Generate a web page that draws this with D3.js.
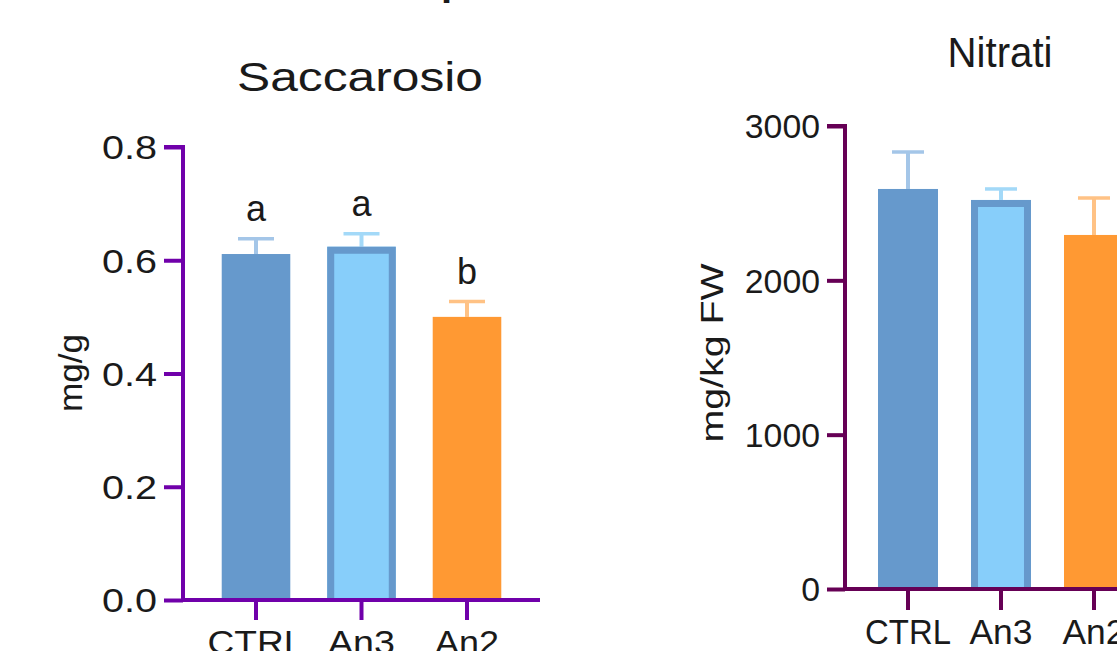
<!DOCTYPE html>
<html><head><meta charset="utf-8">
<script src="https://cdn.jsdelivr.net/npm/d3@7"></script>
<style>html,body{margin:0;padding:0;background:#fff;overflow:hidden}svg{display:block}text{font-family:"Liberation Sans",Arial,sans-serif;fill:#1a1a1a}</style>
</head><body><svg id="c" width="1117" height="651"></svg>
<script>
// ---- data ----
const categories = ["CTRL", "An3", "An2"];
const saccMeans = [0.611, 0.624, 0.500];
const saccErrs  = [0.027, 0.023, 0.027];
const saccLetters = ["a", "a", "b"];
const saccTicks = [0.0, 0.2, 0.4, 0.6, 0.8];
const nitMeans = [2592, 2521, 2294];
const nitErrs  = [240, 71, 240];
const nitTicks = [0, 1000, 2000, 3000];
const barFill   = ["#6699cc", "#87cefa", "#ff9933"];
const barStroke = [null, "#6699cc", null];
const errColor  = ["#a4c6e8", "#a3d9f8", "#ffc285"];

const svg = d3.select("#c");

// partial cut-off text at the very top
svg.append("text").attr("x", 441).attr("y", -5).attr("font-size", 40).attr("font-weight", "bold").text("p");

function panel(o) {
  const g = svg.append("g");
  const x = d3.scaleBand().domain(categories).range([o.x0, o.x1]).paddingInner(o.pi).paddingOuter(o.po);
  const y = d3.scaleLinear().domain(o.domain).range([o.yb, o.yt]);
  const bw = x.bandwidth();
  categories.forEach((c, i) => {
    const m = o.means[i], e = o.errs[i];
    const cx = x(c) + bw / 2;
    g.append("line").attr("x1", cx).attr("x2", cx).attr("y1", y(m)).attr("y2", y(m + e))
      .attr("stroke", errColor[i]).attr("stroke-width", 4);
    g.append("line").attr("x1", cx - o.cap / 2).attr("x2", cx + o.cap / 2).attr("y1", y(m + e)).attr("y2", y(m + e))
      .attr("stroke", errColor[i]).attr("stroke-width", 3.5);
    g.append("rect").attr("x", x(c)).attr("y", y(m)).attr("width", bw).attr("height", y(0) - y(m))
      .attr("fill", barFill[i]);
    if (barStroke[i]) {
      const sw = 7, h = sw / 2;
      g.append("path")
        .attr("d", `M${x(c) + h},${y(0)}V${y(m) + h}H${x(c) + bw - h}V${y(0)}`)
        .attr("fill", "none").attr("stroke", barStroke[i]).attr("stroke-width", sw);
    }
    if (o.letters) {
      g.append("text").attr("x", cx).attr("y", y(m + e) - 18).attr("text-anchor", "middle")
        .attr("font-size", o.letterSize).text(o.letters[i]);
    }
  });
  const ya = g.append("g").attr("transform", `translate(${o.x0},0)`)
    .call(d3.axisLeft(y).tickValues(o.ticks).tickFormat(o.fmt).tickSize(o.tick).tickPadding(7));
  ya.select(".domain").attr("d", `M${-o.tick},${y(o.domain[1])}H0V${y(0)}`).attr("stroke", o.axisColor).attr("stroke-width", 4).attr("fill", "none");
  ya.selectAll(".tick line").attr("stroke", o.axisColor).attr("stroke-width", 4);
  ya.selectAll(".tick text").attr("font-size", o.tickSize).attr("fill", "#1a1a1a").attr("font-family", null)
    .attr("dy", "0.36em").attr("textLength", d => o.tlen(d)).attr("lengthAdjust", "spacingAndGlyphs");
  const xa = g.append("g").attr("transform", `translate(0,${o.yb})`)
    .call(d3.axisBottom(x).tickSize(o.xtick).tickPadding(o.xpad));
  xa.select(".domain").attr("d", `M${o.x0 - 2},0H${o.xend}`).attr("stroke", o.axisColor).attr("stroke-width", 4).attr("fill", "none");
  xa.selectAll(".tick line").attr("stroke", o.axisColor).attr("stroke-width", 4);
  xa.selectAll(".tick text").attr("font-size", o.xlabSize).attr("fill", "#1a1a1a").attr("font-family", null)
    .attr("dy", "0.71em").attr("textLength", (d, i) => o.xlen[i]).attr("lengthAdjust", "spacingAndGlyphs");
  g.append("text").attr("x", o.titleX).attr("y", o.titleY).attr("text-anchor", "middle")
    .attr("font-size", o.titleSize).attr("textLength", o.titleLen).attr("lengthAdjust", "spacingAndGlyphs").text(o.title);
  g.append("text").attr("transform", `translate(${o.ylabX},${o.ylabY}) rotate(-90)`).attr("text-anchor", "middle")
    .attr("font-size", o.ylabSize).attr("textLength", o.ylabLen).attr("lengthAdjust", "spacingAndGlyphs").text(o.ylab);
}

panel({
  x0: 183, x1: 540, xend: 540, pi: 0.35, po: 0.367, domain: [0, 0.8], yb: 600, yt: 147,
  means: saccMeans, errs: saccErrs, letters: saccLetters, letterSize: 36, cap: 36,
  ticks: saccTicks, fmt: d3.format(".1f"), tick: 19, tickSize: 33, tlen: d => 55,
  axisColor: "#7000aa", xtick: 20, xpad: 11, xlabSize: 33, xlen: [97, 67, 64],
  title: "Saccarosio", titleX: 360, titleY: 91, titleSize: 41, titleLen: 246,
  ylab: "mg/g", ylabX: 82, ylabY: 373, ylabSize: 33, ylabLen: 78
});

panel({
  x0: 845, x1: 1157, xend: 1160, pi: 0.355, po: 0.355, domain: [0, 3000], yb: 589, yt: 126,
  means: nitMeans, errs: nitErrs, letters: null, cap: 32,
  ticks: nitTicks, fmt: d3.format("d"), tick: 18, tickSize: 33, tlen: d => String(d).length * 18.8,
  axisColor: "#660055", xtick: 21, xpad: 9, xlabSize: 35, xlen: [86, 63, 63],
  title: "Nitrati", titleX: 1000, titleY: 67, titleSize: 42, titleLen: 105,
  ylab: "mg/kg FW", ylabX: 723, ylabY: 353, ylabSize: 32, ylabLen: 179
});
</script></body></html>
